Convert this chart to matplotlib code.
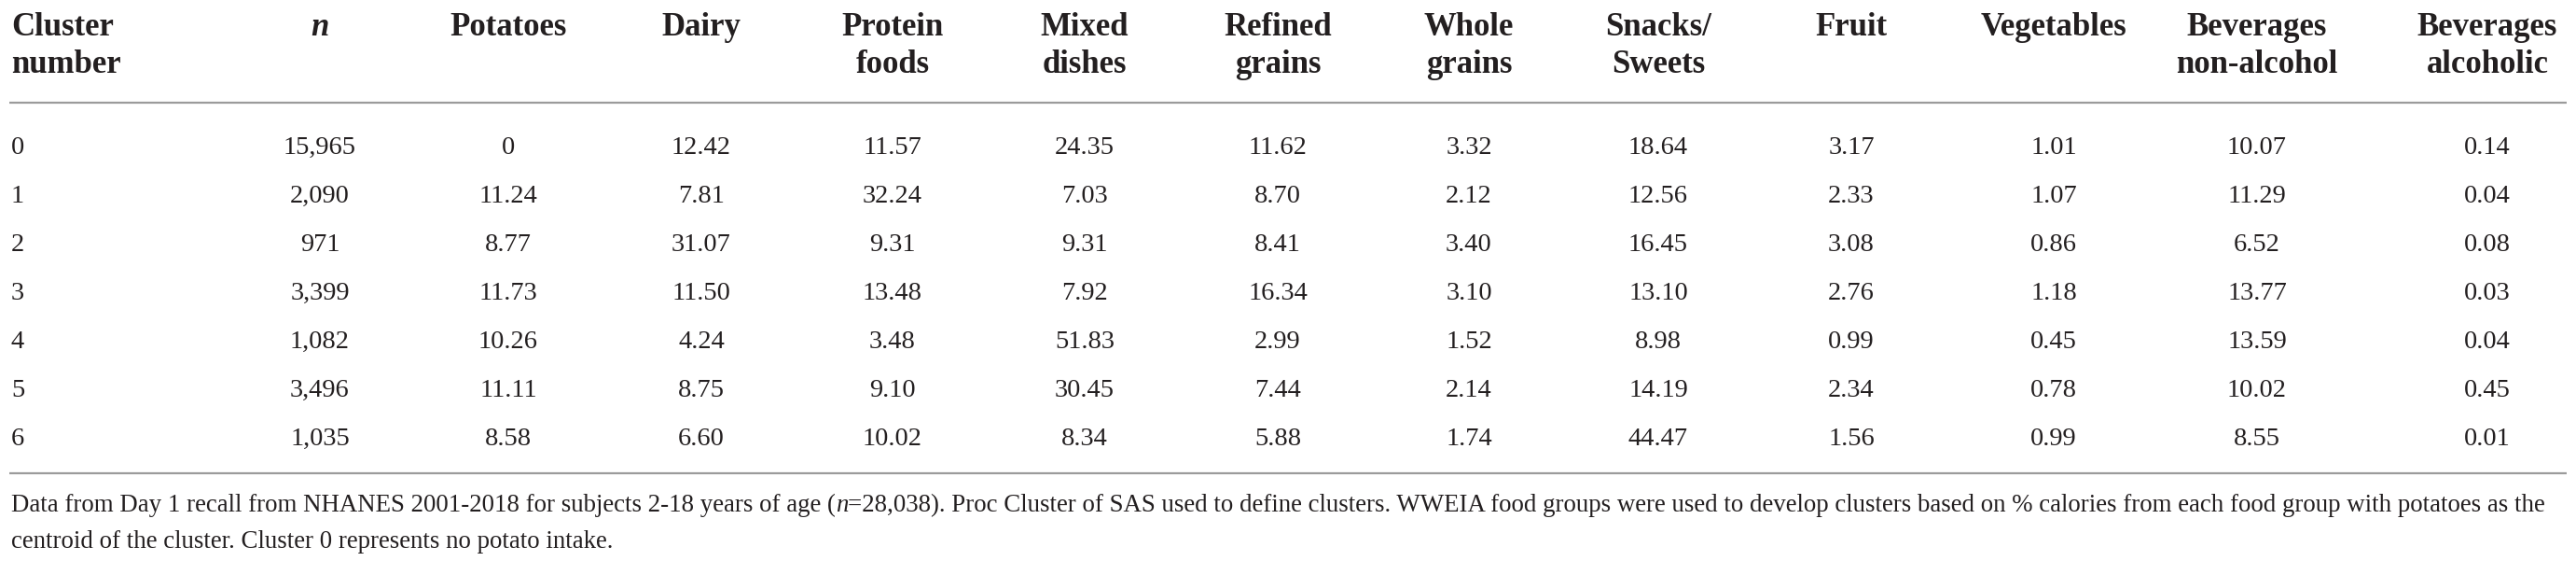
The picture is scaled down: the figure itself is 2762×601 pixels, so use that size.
import matplotlib
matplotlib.use("Agg")
import matplotlib.pyplot as plt

# ---------------- data ----------------
clusters = [0, 1, 2, 3, 4, 5, 6]
n_values = [15965, 2090, 971, 3399, 1082, 3496, 1035]
potatoes = [0, 11.24, 8.77, 11.73, 10.26, 11.11, 8.58]
dairy = [12.42, 7.81, 31.07, 11.50, 4.24, 8.75, 6.60]
protein_foods = [11.57, 32.24, 9.31, 13.48, 3.48, 9.10, 10.02]
mixed_dishes = [24.35, 7.03, 9.31, 7.92, 51.83, 30.45, 8.34]
refined_grains = [11.62, 8.70, 8.41, 16.34, 2.99, 7.44, 5.88]
whole_grains = [3.32, 2.12, 3.40, 3.10, 1.52, 2.14, 1.74]
snacks_sweets = [18.64, 12.56, 16.45, 13.10, 8.98, 14.19, 44.47]
fruit = [3.17, 2.33, 3.08, 2.76, 0.99, 2.34, 1.56]
vegetables = [1.01, 1.07, 0.86, 1.18, 0.45, 0.78, 0.99]
bev_nonalcohol = [10.07, 11.29, 6.52, 13.77, 13.59, 10.02, 8.55]
bev_alcoholic = [0.14, 0.04, 0.08, 0.03, 0.04, 0.45, 0.01]

headers = ["Cluster\nnumber", "n", "Potatoes", "Dairy", "Protein\nfoods", "Mixed\ndishes",
           "Refined\ngrains", "Whole\ngrains", "Snacks/\nSweets", "Fruit", "Vegetables",
           "Beverages\nnon-alcohol", "Beverages\nalcoholic"]

footnote_1a = "Data from Day 1 recall from NHANES 2001-2018 for subjects 2-18 years of age ("
footnote_1b = "n"
footnote_1c = ("=28,038). Proc Cluster of SAS used to define clusters. WWEIA food groups were used to "
               "develop clusters based on % calories from each food group with potatoes as the")
footnote_2 = "centroid of the cluster. Cluster 0 represents no potato intake."

# ---------------- layout ----------------
W, H = 2762, 601
fig = plt.figure(figsize=(W / 100, H / 100), dpi=100)
ax = fig.add_axes([0, 0, 1, 1])
ax.set_xlim(0, W)
ax.set_ylim(H, 0)
ax.axis("off")

TXT = "#231f20"
RULE = "#9b9b9b"
FONT = "Liberation Serif"
HDR_SIZE = 25
BODY_SIZE = 20.5
FOOT_SIZE = 18.5

col_x = [12, 343, 545, 752, 957, 1163, 1370, 1575, 1778, 1985, 2202, 2420, 2667]
hdr_base = [38, 78]
row_base0 = 165
row_step = 52
rule_top = 110
rule_bot = 507
rule_x0, rule_x1 = 10, 2752
foot_x0, foot_x1 = 12, 2749

# header
for i, (x, h) in enumerate(zip(col_x, headers)):
    lines = h.split("\n")
    for j, line in enumerate(lines):
        ax.text(x, hdr_base[j], line, ha="left" if i == 0 else "center", va="baseline",
                fontsize=HDR_SIZE, fontfamily=FONT, fontweight="bold",
                fontstyle="italic" if i == 1 else "normal", color=TXT)

ax.hlines([rule_top, rule_bot], rule_x0, rule_x1, colors=RULE, linewidth=1.6)


def fmt(v):
    return "0" if v == 0 else f"{v:.2f}"


columns = [potatoes, dairy, protein_foods, mixed_dishes, refined_grains, whole_grains,
           snacks_sweets, fruit, vegetables, bev_nonalcohol, bev_alcoholic]

for r, c in enumerate(clusters):
    y = row_base0 + r * row_step
    ax.text(col_x[0], y, str(c), ha="left", va="baseline", fontsize=BODY_SIZE,
            fontfamily=FONT, color=TXT)
    ax.text(col_x[1], y, f"{n_values[r]:,}", ha="center", va="baseline", fontsize=BODY_SIZE,
            fontfamily=FONT, color=TXT)
    for k, col in enumerate(columns):
        ax.text(col_x[k + 2], y, fmt(col[r]), ha="center", va="baseline", fontsize=BODY_SIZE,
                fontfamily=FONT, color=TXT)

# footnote with italic n; size fitted so the first line spans the table width
fig.canvas.draw()
renderer = fig.canvas.get_renderer()
pieces = [(footnote_1a, "normal"), (footnote_1b, "italic"), (footnote_1c, "normal")]


def line_width(size):
    total = 0
    for piece, style in pieces:
        t = ax.text(0, 0, piece, fontsize=size, fontfamily=FONT, fontstyle=style)
        total += t.get_window_extent(renderer=renderer).width
        t.remove()
    return total


size = FOOT_SIZE * (foot_x1 - foot_x0) / line_width(FOOT_SIZE)
x = foot_x0
y1 = 548
for piece, style in pieces:
    t = ax.text(x, y1, piece, ha="left", va="baseline", fontsize=size, fontfamily=FONT,
                fontstyle=style, color=TXT)
    x += t.get_window_extent(renderer=renderer).width
ax.text(foot_x0, 587, footnote_2, ha="left", va="baseline", fontsize=size, fontfamily=FONT,
        color=TXT)

fig.savefig("out.png", dpi=100)
